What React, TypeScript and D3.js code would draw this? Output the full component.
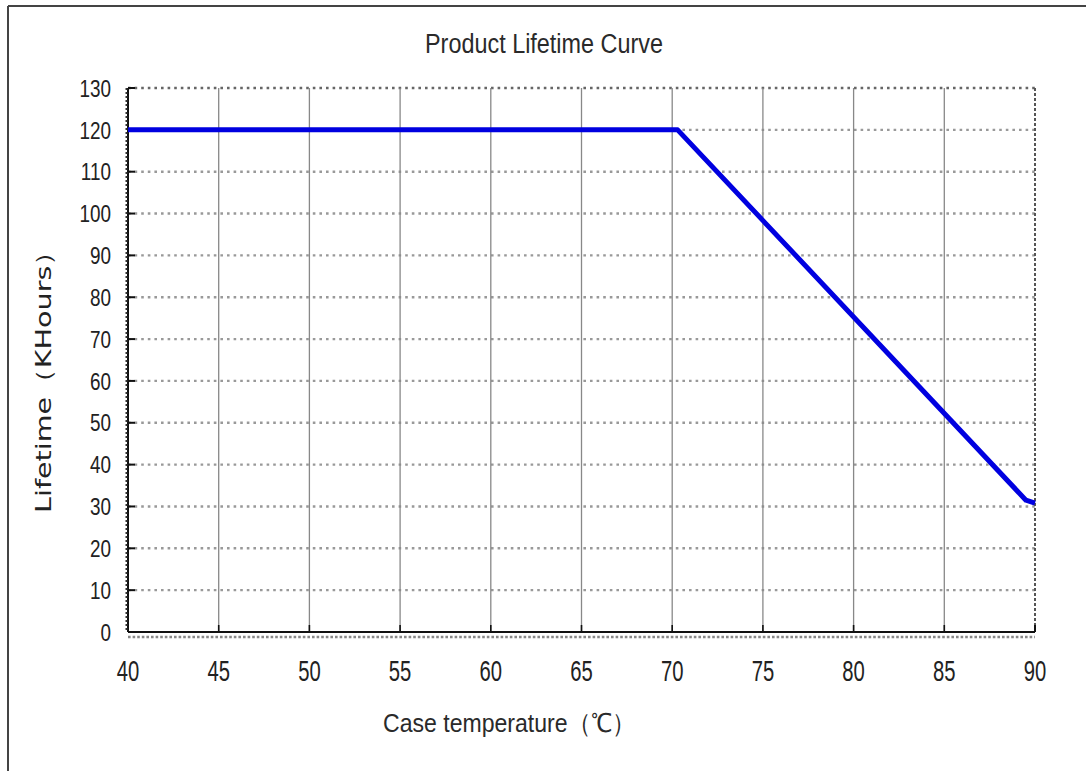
import React from "react";
import * as d3 from "d3";

// values
const temperatures = [40, 70.3, 89.5, 90];
const lifetimes = [120, 120, 31.5, 30.8];
const xTicks = [40, 45, 50, 55, 60, 65, 70, 75, 80, 85, 90];
const yTicks = [0, 10, 20, 30, 40, 50, 60, 70, 80, 90, 100, 110, 120, 130];

const title = "Product Lifetime Curve";
const xTitle = "Case temperature（℃）";
const yTitle = "Lifetime（KHours）";

const width = 1086;
const height = 771;
const left = 128;
const right = 1035;
const top = 88;
const bottom = 632;

const font = "'Liberation Sans', Arial, sans-serif";

const App = () => {
  const x = d3.scaleLinear().domain([40, 90]).range([left, right]);
  const y = d3.scaleLinear().domain([0, 130]).range([bottom, top]);

  const points = temperatures.map((t, i) => [t, lifetimes[i]] as [number, number]);
  const line = d3
    .line<[number, number]>()
    .x((d) => x(d[0]))
    .y((d) => y(d[1]));

  return (
    <svg
      width={width}
      height={height}
      style={{ position: "absolute", left: 0, top: 0, background: "#fff" }}
    >
      {/* outer frame, only top and left visible */}
      <line x1={8} y1={6} x2={width} y2={6} stroke="#444" strokeWidth={2} />
      <line x1={8} y1={6} x2={8} y2={height} stroke="#444" strokeWidth={2} />

      <text
        x={544}
        y={53}
        textAnchor="middle"
        fontFamily={font}
        fontSize={27}
        fill="#2a2a2a"
        textLength={238}
        lengthAdjust="spacingAndGlyphs"
      >
        {title}
      </text>

      {/* horizontal dotted grid */}
      {yTicks.filter((v) => v > 0).map((v) => (
        <line
          key={"h" + v}
          x1={left}
          x2={right}
          y1={y(v)}
          y2={y(v)}
          stroke={v === 130 ? "#666" : "#999"}
          strokeWidth={2.4}
          strokeDasharray="2.6,4"
        />
      ))}

      {/* vertical solid grid */}
      {xTicks.filter((v) => v > 40 && v < 90).map((v) => (
        <g key={"v" + v}>
          <line x1={x(v)} x2={x(v)} y1={top} y2={bottom} stroke="#888" strokeWidth={1.3} />
          <line x1={x(v)} x2={x(v)} y1={bottom - 7} y2={bottom} stroke="#111" strokeWidth={1.6} />
        </g>
      ))}

      {/* right border dashed */}
      <line
        x1={right}
        x2={right}
        y1={top}
        y2={bottom}
        stroke="#555"
        strokeWidth={2}
        strokeDasharray="3,2"
      />
      <line x1={right} x2={right} y1={bottom - 7} y2={bottom} stroke="#111" strokeWidth={2} />

      {/* bottom axis */}
      <line x1={left} x2={right} y1={bottom} y2={bottom} stroke="#111" strokeWidth={2} />
      <line
        x1={left}
        x2={right}
        y1={bottom + 5}
        y2={bottom + 5}
        stroke="#888"
        strokeWidth={2.4}
        strokeDasharray="2.6,2"
      />

      {/* left axis */}
      <line x1={left} x2={left} y1={top} y2={bottom} stroke="#111" strokeWidth={2} />
      <line
        x1={left - 1.5}
        x2={left - 1.5}
        y1={top}
        y2={bottom}
        stroke="#333"
        strokeWidth={2}
        strokeDasharray="2,2"
      />
      {yTicks.map((v) => (
        <line
          key={"t" + v}
          x1={left}
          x2={left + 7}
          y1={y(v)}
          y2={y(v)}
          stroke="#111"
          strokeWidth={2}
        />
      ))}

      {/* y labels */}
      {yTicks.map((v) => (
        <text
          key={"yl" + v}
          x={111}
          y={y(v)}
          dy="0.36em"
          textAnchor="end"
          fontFamily={font}
          fontSize={21}
          fill="#222"
          transform={`translate(111,${y(v)}) scale(0.9,1.15) translate(-111,${-y(v)})`}
        >
          {v}
        </text>
      ))}

      {/* x labels */}
      {xTicks.map((v) => (
        <text
          key={"xl" + v}
          x={x(v)}
          y={671}
          dy="0.36em"
          textAnchor="middle"
          fontFamily={font}
          fontSize={22}
          fill="#222"
          transform={`translate(${x(v)},671) scale(0.92,1.3) translate(${-x(v)},-671)`}
        >
          {v}
        </text>
      ))}

      {/* the curve */}
      <path
        d={line(points) || ""}
        fill="none"
        stroke="#0000e0"
        strokeWidth={5}
        strokeLinejoin="round"
      />

      <text
        x={509}
        y={732}
        textAnchor="middle"
        fontFamily={font}
        fontSize={26}
        fill="#2a2a2a"
        textLength={252}
        lengthAdjust="spacingAndGlyphs"
      >
        {xTitle}
      </text>

      <text
        transform="translate(51,375) rotate(-90)"
        textAnchor="middle"
        fontFamily="'DejaVu Sans', Verdana, sans-serif"
        fontSize={22}
        fill="#222"
        textLength={276}
        lengthAdjust="spacingAndGlyphs"
      >
        {yTitle}
      </text>
    </svg>
  );
};

export default App;
